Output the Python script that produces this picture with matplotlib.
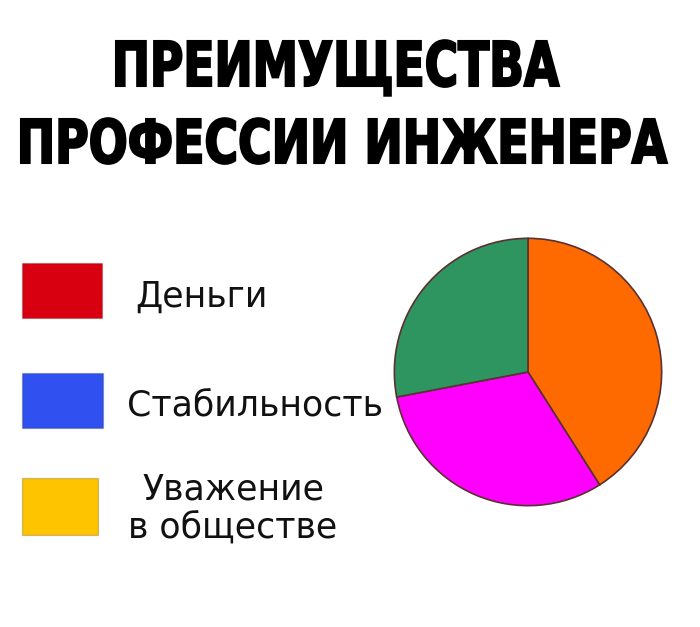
import matplotlib
matplotlib.use("Agg")
import matplotlib.pyplot as plt
from matplotlib.patches import Rectangle, PathPatch
from matplotlib.textpath import TextPath
from matplotlib.font_manager import FontProperties
from matplotlib.transforms import Affine2D

# pie data (shares in %)
pie_values = [41, 31, 28]
pie_colors = ["#ff6a00", "#ff00ff", "#2e9460"]

# legend (deliberately does not match the pie)
legend_labels = ["Деньги", "Стабильность", "Уважение\nв обществе"]
legend_colors = ["#d80010", "#3050f0", "#ffc400"]

title_lines = ["ПРЕИМУЩЕСТВА", "ПРОФЕССИИ ИНЖЕНЕРА"]

W, H = 700, 627
fig = plt.figure(figsize=(W / 100, H / 100), dpi=100)
fig.patch.set_facecolor("white")

# one axes over the whole figure, in pixel units (y down)
bg = fig.add_axes([0, 0, 1, 1])
bg.set_xlim(0, W)
bg.set_ylim(H, 0)
bg.axis("off")

# title: bold text squeezed into a condensed block look
fp = FontProperties(family="DejaVu Sans", weight="bold")
cap_h = TextPath((0, 0), "П", size=100, prop=fp).get_extents().height
title_boxes = [(116, 559, 86, 45), (21, 667, 163, 44)]  # left, right, baseline, cap height
for line, (left, right, base, ch) in zip(title_lines, title_boxes):
    tp = TextPath((0, 0), line, size=100, prop=fp)
    ext = tp.get_extents()
    sx = (right - left) / ext.width
    sy = ch / cap_h
    tr = Affine2D().translate(-ext.x0, 0).scale(sx, -sy).translate(left, base)
    bg.add_patch(PathPatch(tr.transform_path(tp), facecolor="black", edgecolor="black",
                           linewidth=1.5))

# legend squares + labels
box_y = [263, 373, 478]
box_h = [55, 55, 57]
box_w = [80, 81, 76]
for i in range(len(legend_colors)):
    bg.add_patch(Rectangle((22, box_y[i]), box_w[i], box_h[i], facecolor=legend_colors[i],
                           edgecolor="#00000030", linewidth=1))

label_font = dict(fontsize=25, family=["DejaVu Sans"], color="#111111")
bg.text(135, 307, legend_labels[0], ha="left", va="baseline", **label_font)
bg.text(127, 415, legend_labels[1], ha="left", va="baseline", **label_font)
for j, part in enumerate(legend_labels[2].split("\n")):
    bg.text(233, 500 + 38 * j, part, ha="center", va="baseline", **label_font)

# pie
cx, cy, r = 528, 372, 135
ax = fig.add_axes([(cx - r) / W, 1 - (cy + r) / H, 2 * r / W, 2 * r / H])
ax.pie(pie_values, colors=pie_colors, startangle=90, counterclock=False,
       wedgeprops={"edgecolor": "#5a3030", "linewidth": 1.2})
ax.set_xlim(-1.01, 1.01)
ax.set_ylim(-1.01, 1.01)
ax.axis("off")

fig.savefig("out.png", dpi=100, facecolor="white")
